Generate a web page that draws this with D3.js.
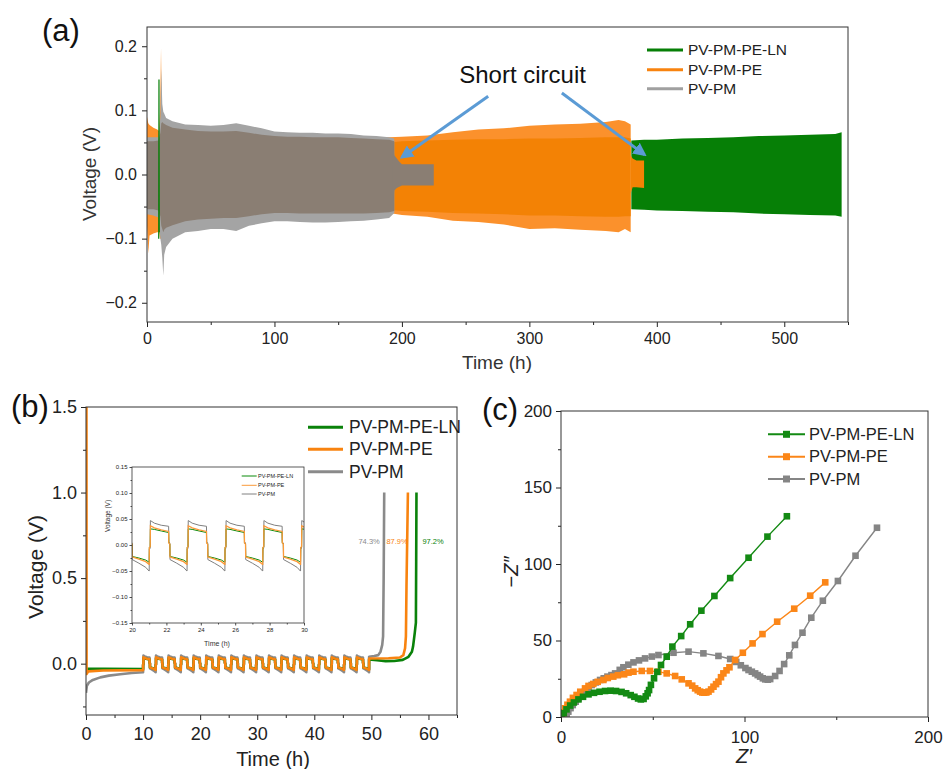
<!DOCTYPE html>
<html>
<head>
<meta charset="utf-8">
<script src="https://cdn.jsdelivr.net/npm/d3@7"></script>
<style>
body { margin: 0; background: #fff; }
</style>
</head>
<body>
<script>
"use strict";

/* Series shared by the three panels */
var seriesNames = ["PV-PM-PE-LN", "PV-PM-PE", "PV-PM"];
var seriesColors = ["#0a820a", "#f8830f", "#8a8a8a"];

/* (a) symmetric cycling: envelopes (h, V) */
var pmTime    = [0, 5, 9, 10.5, 11.2, 12, 12.8, 13.5, 15, 20, 30, 40, 50, 60, 70, 80, 90, 100, 110, 120, 130, 140, 150, 160, 170, 180, 190, 194];
var pmOutHi   = [0.058, 0.058, 0.058, 0.09, 0.165, 0.11, 0.098, 0.095, 0.088, 0.083, 0.078, 0.077, 0.076, 0.077, 0.080, 0.076, 0.072, 0.067, 0.066, 0.065, 0.065, 0.064, 0.064, 0.063, 0.061, 0.060, 0.058, 0.056];
var pmCoreHi  = [0.052, 0.052, 0.053, 0.065, 0.08, 0.082, 0.08, 0.079, 0.077, 0.073, 0.070, 0.068, 0.067, 0.067, 0.068, 0.065, 0.062, 0.060, 0.059, 0.059, 0.058, 0.058, 0.058, 0.057, 0.056, 0.055, 0.054, 0.052];
var pmCoreLo  = [-0.054, -0.054, -0.056, -0.065, -0.08, -0.085, -0.09, -0.086, -0.083, -0.079, -0.073, -0.070, -0.069, -0.068, -0.068, -0.065, -0.062, -0.060, -0.060, -0.061, -0.061, -0.061, -0.061, -0.061, -0.061, -0.060, -0.059, -0.057];
var pmOutLo   = [-0.062, -0.064, -0.067, -0.10, -0.11, -0.13, -0.158, -0.125, -0.113, -0.100, -0.090, -0.088, -0.085, -0.085, -0.088, -0.080, -0.076, -0.073, -0.073, -0.074, -0.075, -0.075, -0.074, -0.073, -0.072, -0.070, -0.068, -0.060];
var pmShortTime = [193, 194, 196, 198, 200, 210, 220, 225];
var pmShortHi   = [0.050, 0.030, 0.025, 0.020, 0.016, 0.016, 0.016, 0.016];
var pmShortLo   = [-0.050, -0.025, -0.021, -0.019, -0.017, -0.017, -0.017, -0.017];

var peTime    = [0, 1, 2, 5, 8, 9.5, 10.3, 11, 11.6, 13, 20, 50, 100, 150, 190, 200, 220, 240, 260, 280, 300, 320, 340, 360, 370, 375, 379.5];
var peOutHi   = [0.090, 0.080, 0.077, 0.073, 0.070, 0.068, 0.10, 0.197, 0.10, 0.075, 0.068, 0.062, 0.060, 0.058, 0.058, 0.059, 0.061, 0.066, 0.070, 0.072, 0.076, 0.078, 0.079, 0.082, 0.085, 0.083, 0.078];
var peCoreHi  = [0.060, 0.055, 0.053, 0.052, 0.052, 0.052, 0.055, 0.055, 0.055, 0.053, 0.052, 0.050, 0.050, 0.050, 0.050, 0.052, 0.053, 0.054, 0.055, 0.055, 0.056, 0.056, 0.057, 0.058, 0.058, 0.058, 0.056];
var peCoreLo  = [-0.060, -0.060, -0.060, -0.058, -0.058, -0.058, -0.060, -0.060, -0.060, -0.058, -0.056, -0.055, -0.055, -0.055, -0.055, -0.057, -0.058, -0.060, -0.061, -0.062, -0.064, -0.064, -0.065, -0.066, -0.066, -0.065, -0.065];
var peOutLo   = [-0.080, -0.123, -0.095, -0.092, -0.090, -0.090, -0.10, -0.10, -0.10, -0.095, -0.085, -0.080, -0.070, -0.065, -0.060, -0.063, -0.066, -0.072, -0.074, -0.078, -0.085, -0.084, -0.086, -0.088, -0.090, -0.085, -0.090];
var peShortTime = [379.5, 381, 384, 390];
var peShortHi   = [0.030, 0.025, 0.022, 0.022];
var peShortLo   = [-0.030, -0.020, -0.020, -0.021];

var lnTime  = [380, 390, 400, 420, 440, 460, 480, 500, 520, 540, 545];
var lnHi    = [0.053, 0.054, 0.054, 0.056, 0.057, 0.058, 0.060, 0.061, 0.062, 0.063, 0.066];
var lnLo    = [-0.054, -0.055, -0.056, -0.057, -0.058, -0.059, -0.061, -0.062, -0.063, -0.064, -0.066];
var lnSpikeTime = [9.2, 9.4, 9.6];
var lnSpikeV    = [-0.10, 0.148, -0.09];

// "Short circuit" arrows, tail -> tip, in data units
var arrowTail = [[267.7, 0.122], [325.5, 0.127]];
var arrowTip  = [[200, 0.027], [390.3, 0.031]];

/* (b) galvanostatic cycling (h, V) */
var cycleRise = [10, 12.2, 14.4, 16.6, 18.8, 21.0, 23.2, 25.4, 27.6, 29.8, 32.0, 34.2, 36.4, 38.6, 40.8, 43.0, 45.2, 47.4];
// one cycle, time from the rise (h) and voltage, from the inset
var lnCycle = [[0, -0.033], [0.01, -0.005], [0.06, -0.003], [0.07, 0.031], [0.3, 0.030], [0.7, 0.027], [1.13, 0.024], [1.14, 0.004], [1.2, 0.002], [1.21, -0.022], [1.6, -0.025], [2.0, -0.029], [2.19, -0.033]];
var peCycle = [[0, -0.037], [0.01, -0.005], [0.06, -0.003], [0.07, 0.037], [0.3, 0.033], [0.7, 0.029], [1.13, 0.026], [1.14, 0.004], [1.2, 0.002], [1.21, -0.023], [1.6, -0.027], [2.0, -0.032], [2.19, -0.037]];
var pmCycle = [[0, -0.050], [0.01, -0.008], [0.06, -0.006], [0.07, 0.047], [0.3, 0.042], [0.7, 0.038], [1.13, 0.036], [1.14, 0.006], [1.2, 0.004], [1.21, -0.028], [1.6, -0.035], [2.0, -0.043], [2.19, -0.050]];
var lnPre  = [[0.1, -0.030], [3, -0.030], [10, -0.032]];
var pePre  = [[0, -0.05], [0.02, 1.5], [0.08, 1.5], [0.1, -0.06], [0.4, -0.045], [3, -0.040], [10, -0.038]];
var pmPre  = [[0, -0.17], [0.15, -0.13], [0.5, -0.11], [1.2, -0.095], [2.5, -0.08], [4, -0.07], [6, -0.062], [8, -0.055], [10, -0.05]];
var lnPost = [[49.6, 0.025], [51, 0.020], [52.5, 0.015], [54, 0.016], [55.5, 0.022], [56.5, 0.04], [57.1, 0.07], [57.3, 0.10], [57.6, 0.18], [57.8, 0.24], [57.85, 0.6], [57.9, 1.0]];
var pePost = [[49.6, 0.030], [53, 0.032], [55, 0.036], [55.6, 0.05], [55.9, 0.09], [56.05, 0.16], [56.15, 0.45], [56.4, 1.0]];
var pmPost = [[49.6, 0.040], [50.5, 0.045], [51.2, 0.05], [51.6, 0.07], [51.9, 0.11], [52.05, 0.16], [52.15, 0.5], [52.25, 1.0]];
var effLabels = ["97.2%", "87.9%", "74.3%"];
var effPos    = [[60.8, 0.715], [54.5, 0.715], [49.6, 0.715]];

/* (c) Nyquist plots (ohm) */
var lnRe = [0.5, 1.5, 3, 5, 7, 9.5, 12, 15, 18, 21, 24, 27, 30, 33, 35.5, 38, 40, 42, 43.5, 45, 46.2, 47.2, 48, 49, 50.7, 52.5, 54.5, 57.6, 60.7, 65.5, 70.4, 76.5, 83.6, 92.2, 102.2, 112.5, 123.1];
var lnIm = [0, 2.5, 5, 7.5, 9.5, 11.5, 13.2, 14.8, 15.8, 16.5, 17, 17.2, 17, 16.4, 15.5, 14.3, 13.2, 12.1, 11.5, 11.8, 13.5, 15.5, 17.6, 21, 25.3, 29.5, 34, 39.4, 46, 52.9, 60.6, 69.5, 79.1, 90.8, 104.1, 117.9, 131.2];
var peRe = [0.9, 1.5, 2.2, 3.5, 4.9, 6.5, 8.5, 10.5, 13.1, 15.0, 17.6, 20.0, 23.1, 25.5, 28.5, 31.0, 34.4, 36.8, 39.5, 44.0, 48.5, 53.1, 57.6, 62.2, 65.8, 69.5, 71.5, 73.1, 74.5, 75.8, 77.0, 78.0, 79.2, 80.4, 81.8, 83.1, 84.5, 85.8, 87.2, 88.5, 90.2, 91.8, 94.9, 99.1, 104.4, 109.8, 117.8, 127.1, 135.8, 144.0];
var peIm = [1.3, 3.0, 5.7, 8.0, 10.0, 12.5, 14.4, 16.5, 18.7, 20.3, 21.6, 23.0, 24.2, 25.5, 26.4, 27.3, 27.9, 29.0, 29.6, 30.1, 30.1, 29.6, 28.5, 26.8, 24.6, 22.0, 20.5, 18.7, 17.5, 16.6, 16.0, 15.9, 16.0, 16.6, 18.0, 19.8, 21.5, 23.1, 26.0, 28.5, 30.5, 32.5, 37.3, 42.0, 48.1, 54.2, 62.3, 70.8, 79.3, 88.0];
var pmRe = [3.1, 4.0, 5.2, 6.4, 8.0, 9.5, 11.3, 13.1, 15.0, 16.7, 19.0, 21.3, 23.3, 25.3, 27.5, 29.5, 32.0, 34.0, 36.7, 39.5, 42.5, 45.8, 49.5, 53.1, 61.3, 69.5, 77.6, 85.8, 92.2, 95.5, 98.0, 100.5, 102.2, 104.0, 105.8, 107.2, 108.5, 110.0, 111.3, 112.7, 114.0, 116.7, 119.1, 121.6, 124.4, 127.5, 131.6, 136.4, 142.7, 150.9, 160.5, 172.2];
var pmIm = [0.7, 3.5, 5.8, 7.8, 10.0, 12.2, 14.5, 16.6, 18.9, 20.9, 22.6, 24.2, 25.3, 26.4, 27.4, 28.5, 30.8, 32.5, 34.2, 35.7, 37.0, 38.3, 39.5, 40.5, 42.0, 42.7, 41.6, 39.9, 37.9, 36.0, 33.8, 32.0, 30.7, 29.6, 28.5, 27.4, 26.4, 25.3, 24.6, 24.4, 24.8, 26.8, 30.1, 34.6, 40.3, 47.1, 55.1, 64.9, 76.0, 88.9, 105.4, 123.7];

/* ------------------------------------------------------------------ */
var font = "Arial, 'Liberation Sans', sans-serif";
var svg = d3.select("body").append("svg")
	.attr("width", 943).attr("height", 769)
	.style("font-family", font);

var boxA = {left: 147, right: 848, top: 27, bottom: 322};
var boxB = {left: 86, right: 457, top: 407, bottom: 715};
var boxI = {left: 132, right: 304, top: 467, bottom: 623};
var boxC = {left: 561, right: 928, top: 411, bottom: 717};

function makeClip(id, box) {
	svg.append("clipPath").attr("id", id).append("rect")
		.attr("x", box.left).attr("y", box.top)
		.attr("width", box.right - box.left).attr("height", box.bottom - box.top);
	return "url(#" + id + ")";
}

// bottom + left axes with minor ticks, frame drawn around the box
function drawAxes(box, x, y, o) {
	var g = svg.append("g");
	g.append("g").attr("transform", "translate(0," + box.bottom + ")")
		.call(d3.axisBottom(x).tickValues(o.xMinor).tickFormat("").tickSize(o.minor).tickSizeOuter(0));
	g.append("g").attr("transform", "translate(0," + box.bottom + ")")
		.call(d3.axisBottom(x).tickValues(o.xTicks).tickFormat(o.xFmt)
			.tickSize(o.major).tickSizeOuter(0).tickPadding(o.padX));
	g.append("g").attr("transform", "translate(" + box.left + ",0)")
		.call(d3.axisLeft(y).tickValues(o.yMinor).tickFormat("").tickSize(o.minor).tickSizeOuter(0));
	g.append("g").attr("transform", "translate(" + box.left + ",0)")
		.call(d3.axisLeft(y).tickValues(o.yTicks).tickFormat(o.yFmt)
			.tickSize(o.major).tickSizeOuter(0).tickPadding(o.padY));
	g.selectAll(".domain").remove();
	g.selectAll("line").attr("stroke", "#222").attr("stroke-width", o.sw || 1);
	g.selectAll("text").attr("font-size", o.fs).attr("fill", "#222").attr("font-family", font);
	svg.append("rect")
		.attr("x", box.left).attr("y", box.top)
		.attr("width", box.right - box.left).attr("height", box.bottom - box.top)
		.attr("fill", "none").attr("stroke", "#333").attr("stroke-width", o.sw || 1);
}

function drawLegend(x0, x1, tx, ys, fs, sw, marker, colors) {
	seriesNames.forEach(function(name, i) {
		svg.append("line")
			.attr("x1", x0).attr("x2", x1).attr("y1", ys[i]).attr("y2", ys[i])
			.attr("stroke", colors[i]).attr("stroke-width", sw);
		if (marker) {
			svg.append("rect")
				.attr("x", (x0 + x1) / 2 - marker / 2).attr("y", ys[i] - marker / 2)
				.attr("width", marker).attr("height", marker).attr("fill", colors[i]);
		}
		svg.append("text")
			.attr("x", tx).attr("y", ys[i]).attr("dy", "0.35em")
			.attr("font-size", fs).attr("fill", "#222").text(name);
	});
}

function zipBand(time, hi, lo) {
	return time.map(function(t, i) { return {t: t, hi: hi[i], lo: lo[i]}; });
}

/* ---------------- panel (a) ---------------- */
var xA = d3.scaleLinear().domain([0, 550]).range([boxA.left, boxA.right]);
var yA = d3.scaleLinear().domain([-0.23, 0.23]).range([boxA.bottom, boxA.top]);
var bandA = d3.area()
	.x(function(d) { return xA(d.t); })
	.y0(function(d) { return yA(d.lo); })
	.y1(function(d) { return yA(d.hi); });
var gA = svg.append("g").attr("clip-path", makeClip("clipA", boxA));

gA.append("path").attr("d", bandA(zipBand(lnTime, lnHi, lnLo))).attr("fill", "#067f06");
gA.append("path").attr("d", bandA(zipBand(peTime, peOutHi, peOutLo))).attr("fill", "#fb912c");
gA.append("path").attr("d", bandA(zipBand(peTime, peCoreHi, peCoreLo))).attr("fill", "#f38205");
gA.append("path").attr("d", bandA(zipBand(peShortTime, peShortHi, peShortLo))).attr("fill", "#f38205");
gA.append("path").attr("d", bandA(zipBand(pmTime, pmOutHi, pmOutLo))).attr("fill", "#a4a4a4");
gA.append("path").attr("d", bandA(zipBand(pmTime, pmCoreHi, pmCoreLo))).attr("fill", "#8a7e73");
gA.append("path").attr("d", bandA(zipBand(pmShortTime, pmShortHi, pmShortLo))).attr("fill", "#8a7e73");
gA.append("path")
	.attr("d", d3.line()(lnSpikeTime.map(function(t, i) { return [xA(t), yA(lnSpikeV[i])]; })))
	.attr("fill", "none").attr("stroke", "#067f06").attr("stroke-width", 1.2);

drawAxes(boxA, xA, yA, {
	xTicks: [0, 100, 200, 300, 400, 500], xMinor: [50, 150, 250, 350, 450, 550],
	yTicks: [-0.2, -0.1, 0, 0.1, 0.2], yMinor: [-0.15, -0.05, 0.05, 0.15],
	xFmt: d3.format("d"), yFmt: d3.format(".1f"),
	major: 5, minor: 3, padX: 6, padY: 5, fs: 16
});

// annotation
var defs = svg.append("defs");
defs.append("marker").attr("id", "head")
	.attr("viewBox", "0 0 10 10").attr("refX", 8).attr("refY", 5)
	.attr("markerWidth", 4.5).attr("markerHeight", 4.5).attr("orient", "auto")
	.append("path").attr("d", "M0,0L10,5L0,10z").attr("fill", "#5b9bd5");
arrowTail.forEach(function(p, i) {
	svg.append("line")
		.attr("x1", xA(p[0])).attr("y1", yA(p[1]))
		.attr("x2", xA(arrowTip[i][0])).attr("y2", yA(arrowTip[i][1]))
		.attr("stroke", "#5b9bd5").attr("stroke-width", 3)
		.attr("marker-end", "url(#head)");
});
svg.append("text").attr("x", xA(245)).attr("y", yA(0.143))
	.attr("font-size", 24).attr("fill", "#111").text("Short circuit");

drawLegend(647, 683, 688, [50, 69.7, 88.7], 15.5, 3, 0, ["#067f06", "#f8830f", "#a0a0a0"]);

svg.append("text").attr("transform", "translate(89,174) rotate(-90)")
	.attr("text-anchor", "middle").attr("dy", "0.35em")
	.attr("font-size", 19).attr("fill", "#333").text("Voltage (V)");
svg.append("text").attr("x", 497).attr("y", 369).attr("text-anchor", "middle")
	.attr("font-size", 19).attr("fill", "#333").text("Time (h)");
svg.append("text").attr("x", 42).attr("y", 41).attr("font-size", 31).attr("fill", "#111").text("(a)");

/* ---------------- panel (b) ---------------- */
function buildCurve(pre, cycle, post) {
	var pts = pre.slice();
	cycleRise.forEach(function(t0) {
		cycle.forEach(function(p) { pts.push([t0 + p[0], p[1]]); });
	});
	return pts.concat(post);
}
var curvesB = [
	buildCurve(lnPre, lnCycle, lnPost),
	buildCurve(pePre, peCycle, pePost),
	buildCurve(pmPre, pmCycle, pmPost)
];

var xB = d3.scaleLinear().domain([0, 65]).range([boxB.left, boxB.right]);
var yB = d3.scaleLinear().domain([-0.3, 1.5]).range([boxB.bottom, boxB.top]);
var lineB = d3.line().x(function(d) { return xB(d[0]); }).y(function(d) { return yB(d[1]); });
var gB = svg.append("g").attr("clip-path", makeClip("clipB", boxB));
[2, 0, 1].forEach(function(i) {
	gB.append("path").attr("d", lineB(curvesB[i]))
		.attr("fill", "none").attr("stroke", seriesColors[i])
		.attr("stroke-width", 2.6).attr("stroke-linejoin", "round");
});

drawAxes(boxB, xB, yB, {
	xTicks: [0, 10, 20, 30, 40, 50, 60], xMinor: [5, 15, 25, 35, 45, 55, 65],
	yTicks: [0, 0.5, 1.0, 1.5], yMinor: [-0.25, 0.25, 0.75, 1.25],
	xFmt: d3.format("d"), yFmt: d3.format(".1f"),
	major: 5, minor: 3, padX: 7, padY: 4, fs: 18
});

effLabels.forEach(function(s, i) {
	svg.append("text").attr("x", xB(effPos[i][0])).attr("y", yB(effPos[i][1]))
		.attr("dy", "0.35em").attr("text-anchor", "middle")
		.attr("font-size", 7.5).attr("fill", seriesColors[i]).text(s);
});

drawLegend(308, 343, 349, [427.3, 449.3, 471.7], 17.5, 3, 0, seriesColors);

svg.append("text").attr("transform", "translate(36,567) rotate(-90)")
	.attr("text-anchor", "middle").attr("dy", "0.35em")
	.attr("font-size", 21).attr("fill", "#222").text("Voltage (V)");
svg.append("text").attr("x", 273).attr("y", 766).attr("text-anchor", "middle")
	.attr("font-size", 20).attr("fill", "#222").text("Time (h)");
svg.append("text").attr("x", 11).attr("y", 417).attr("font-size", 31).attr("fill", "#111").text("(b)");

// inset: zoom on 20-30 h
var xI = d3.scaleLinear().domain([20, 30]).range([boxI.left, boxI.right]);
var yI = d3.scaleLinear().domain([-0.15, 0.15]).range([boxI.bottom, boxI.top]);
var lineI = d3.line().x(function(d) { return xI(d[0]); }).y(function(d) { return yI(d[1]); });
svg.append("rect").attr("x", boxI.left).attr("y", boxI.top)
	.attr("width", boxI.right - boxI.left).attr("height", boxI.bottom - boxI.top).attr("fill", "#fff");
var gI = svg.append("g").attr("clip-path", makeClip("clipI", boxI));
var insetColors = ["#0a8a0a", "#fb9a3a", "#808080"];
[2, 0, 1].forEach(function(i) {
	gI.append("path").attr("d", lineI(curvesB[i]))
		.attr("fill", "none").attr("stroke", insetColors[i])
		.attr("stroke-width", i === 1 ? 1.3 : 1);
});
drawAxes(boxI, xI, yI, {
	xTicks: [20, 22, 24, 26, 28, 30], xMinor: [21, 23, 25, 27, 29],
	yTicks: [-0.15, -0.1, -0.05, 0, 0.05, 0.1, 0.15], yMinor: [-0.125, -0.075, -0.025, 0.025, 0.075, 0.125],
	xFmt: d3.format("d"), yFmt: d3.format(".2f"),
	major: 2.5, minor: 1.5, padX: 2, padY: 2, fs: 6, sw: 0.8
});
drawLegend(241.7, 256.7, 258, [476, 485.3, 494], 5.5, 1, 0, insetColors);
svg.append("text").attr("transform", "translate(108,516) rotate(-90)")
	.attr("text-anchor", "middle").attr("dy", "0.35em")
	.attr("font-size", 6.5).attr("fill", "#333").text("Voltage (V)");
svg.append("text").attr("x", 217).attr("y", 646).attr("text-anchor", "middle")
	.attr("font-size", 7).attr("fill", "#333").text("Time (h)");

/* ---------------- panel (c) ---------------- */
var xC = d3.scaleLinear().domain([0, 200]).range([boxC.left, boxC.right]);
var yC = d3.scaleLinear().domain([0, 200]).range([boxC.bottom, boxC.top]);
var nyquist = [[lnRe, lnIm], [peRe, peIm], [pmRe, pmIm]].map(function(s) {
	return s[0].map(function(re, i) { return [re, s[1][i]]; });
});
var lineC = d3.line().x(function(d) { return xC(d[0]); }).y(function(d) { return yC(d[1]); });
var gC = svg.append("g").attr("clip-path", makeClip("clipC", boxC));
var colorsC = ["#138a13", "#fb8618", "#858585"];
[2, 1, 0].forEach(function(i) {
	var g = gC.append("g");
	g.append("path").attr("d", lineC(nyquist[i]))
		.attr("fill", "none").attr("stroke", colorsC[i]).attr("stroke-width", 1.4);
	g.selectAll("rect").data(nyquist[i]).enter().append("rect")
		.attr("x", function(d) { return xC(d[0]) - 3.3; })
		.attr("y", function(d) { return yC(d[1]) - 3.3; })
		.attr("width", 6.6).attr("height", 6.6)
		.attr("fill", colorsC[i]);
});

drawAxes(boxC, xC, yC, {
	xTicks: [0, 100, 200], xMinor: [50, 150],
	yTicks: [0, 50, 100, 150, 200], yMinor: [25, 75, 125, 175],
	xFmt: d3.format("d"), yFmt: d3.format("d"),
	major: 5, minor: 3, padX: 9, padY: 4, fs: 17
});

drawLegend(768, 805, 809, [434.3, 456.7, 479], 16.5, 2, 7, colorsC);

var yl = svg.append("text").attr("transform", "translate(511,572) rotate(-90)")
	.attr("text-anchor", "middle").attr("dy", "0.35em")
	.attr("font-size", 20).attr("fill", "#222");
yl.append("tspan").text("\u2212");
yl.append("tspan").attr("font-style", "italic").text("Z\u2033");
svg.append("text").attr("x", 744).attr("y", 763).attr("text-anchor", "middle")
	.attr("font-size", 20).attr("font-style", "italic").attr("fill", "#222").text("Z\u2032");
svg.append("text").attr("x", 482).attr("y", 420).attr("font-size", 31).attr("fill", "#111").text("(c)");
</script>
</body>
</html>
